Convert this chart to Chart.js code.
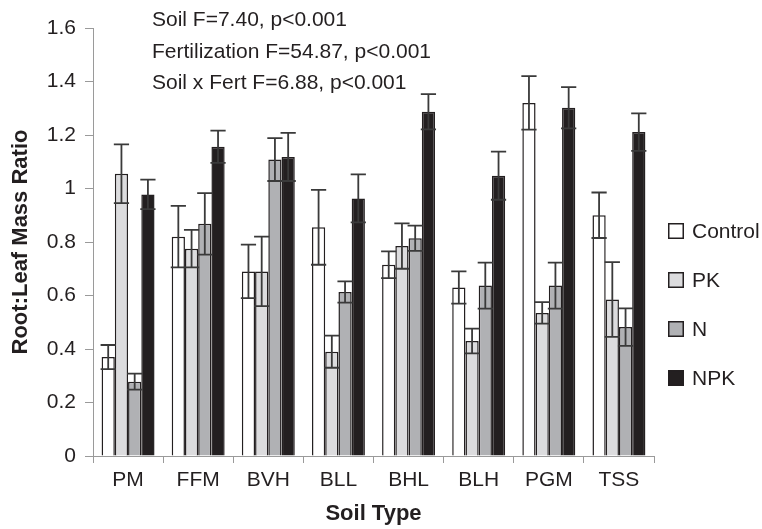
<!DOCTYPE html>
<html>
<head>
<meta charset="utf-8">
<script src="https://cdn.jsdelivr.net/npm/chart.js@4/dist/chart.umd.min.js"></script>
<style>
html,body{margin:0;padding:0;background:#ffffff;}
#wrap{width:762px;height:529px;position:relative;}
</style>
</head>
<body>
<div id="wrap"><canvas id="c" width="762" height="529"></canvas></div>
<script>
// ---- data ----
const categories = ['PM', 'FFM', 'BVH', 'BLL', 'BHL', 'BLH', 'PGM', 'TSS'];
const seriesNames = ['Control', 'PK', 'N', 'NPK'];
const controlVals = [0.37, 0.82, 0.69, 0.855, 0.715, 0.63, 1.32, 0.90];
const controlErr  = [0.045, 0.115, 0.10, 0.14, 0.05, 0.06, 0.10, 0.085];
const pkVals = [1.055, 0.775, 0.69, 0.39, 0.785, 0.43, 0.535, 0.585];
const pkErr  = [0.11, 0.07, 0.13, 0.06, 0.085, 0.046, 0.04, 0.14];
const nVals = [0.278, 0.868, 1.108, 0.613, 0.814, 0.637, 0.637, 0.482];
const nErr  = [0.03, 0.115, 0.08, 0.04, 0.047, 0.086, 0.086, 0.07];
const npkVals = [0.978, 1.156, 1.118, 0.963, 1.287, 1.048, 1.302, 1.211];
const npkErr  = [0.055, 0.06, 0.09, 0.09, 0.066, 0.09, 0.077, 0.07];
const yTickLabels = ['0', '0.2', '0.4', '0.6', '0.8', '1', '1.2', '1.4', '1.6'];
const annotationLines = [
  'Soil F=7.40, p<0.001',
  'Fertilization F=54.87, p<0.001',
  'Soil x Fert F=6.88, p<0.001'
];
const yTitle = 'Root:Leaf Mass Ratio';
const xTitle = 'Soil Type';

// ---- styles ----
const INK = '#231f20';
const AXIS = '#9a9a9a';
const FONT = "'Liberation Sans', Arial, Helvetica, sans-serif";
const fills = ['#ffffff', '#dcdcde', '#b0b1b4', '#231f20'];
const valueSets = [controlVals, pkVals, nVals, npkVals];
const errSets = [controlErr, pkErr, nErr, npkErr];

const datasets = seriesNames.map((name, i) => ({
  label: name,
  data: valueSets[i],
  errors: errSets[i],
  backgroundColor: fills[i],
  borderColor: INK,
  borderWidth: 1.5,
  categoryPercentage: 0.755,
  barPercentage: 1.0
}));

const errorBarPlugin = {
  id: 'errorBars',
  afterDatasetsDraw(chart) {
    const ctx = chart.ctx;
    const ys = chart.scales.y;
    ctx.save();
    ctx.strokeStyle = '#3a3a3a';
    ctx.lineWidth = 1.8;
    chart.data.datasets.forEach((ds, i) => {
      const meta = chart.getDatasetMeta(i);
      meta.data.forEach((bar, j) => {
        const v = ds.data[j], e = ds.errors[j];
        const yt = ys.getPixelForValue(v + e);
        const yb = ys.getPixelForValue(v - e);
        const half = bar.width / 2 + 1;
        ctx.beginPath();
        ctx.moveTo(bar.x, yt); ctx.lineTo(bar.x, yb);
        ctx.moveTo(bar.x - half, yt); ctx.lineTo(bar.x + half, yt);
        ctx.moveTo(bar.x - half, yb); ctx.lineTo(bar.x + half, yb);
        ctx.stroke();
      });
    });
    ctx.restore();
  }
};

const sideLegendPlugin = {
  id: 'sideLegend',
  afterDraw(chart) {
    const ctx = chart.ctx;
    const x0 = chart.chartArea.right + 14;
    const y0 = 231, step = 49, box = 16;
    ctx.save();
    ctx.font = '21px ' + FONT;
    ctx.textBaseline = 'middle';
    ctx.textAlign = 'left';
    chart.data.datasets.forEach((ds, i) => {
      const cy = y0 + i * step;
      ctx.fillStyle = ds.backgroundColor;
      ctx.fillRect(x0, cy - box / 2, box, box);
      ctx.strokeStyle = INK;
      ctx.lineWidth = 1.5;
      ctx.strokeRect(x0 + 0.75, cy - box / 2 + 0.75, box - 1.5, box - 1.5);
      ctx.fillStyle = INK;
      ctx.fillText(ds.label, x0 + 24, cy + 1);
    });
    ctx.restore();
  }
};

const annotationPlugin = {
  id: 'statsText',
  afterDraw(chart) {
    const ctx = chart.ctx;
    ctx.save();
    ctx.font = '21px ' + FONT;
    ctx.fillStyle = INK;
    ctx.textBaseline = 'alphabetic';
    ctx.textAlign = 'left';
    annotationLines.forEach((t, i) => {
      ctx.fillText(t, 152, 26 + i * 31.6);
    });
    ctx.restore();
  }
};

Chart.defaults.font.family = FONT;
Chart.defaults.color = INK;

new Chart(document.getElementById('c'), {
  type: 'bar',
  data: { labels: categories, datasets: datasets },
  options: {
    responsive: false,
    devicePixelRatio: 1,
    animation: false,
    layout: { padding: { left: 0, right: 108, top: 28, bottom: 0 } },
    plugins: {
      legend: { display: false },
      tooltip: { enabled: false }
    },
    scales: {
      x: {
        grid: { display: true, drawOnChartArea: false, offset: true, color: AXIS, tickLength: 7, lineWidth: 1 },
        border: { display: true, color: AXIS, width: 1 },
        ticks: { font: { size: 21 }, color: INK, padding: 5, maxRotation: 0, autoSkip: false },
        title: { display: true, text: xTitle, font: { size: 22, weight: 'bold' }, color: INK, padding: { top: 2, bottom: 2 } },
        afterFit(scale) { scale.height = 73; }
      },
      y: {
        min: 0, max: 1.6,
        grid: { display: true, drawOnChartArea: false, color: AXIS, tickLength: 8, lineWidth: 1 },
        border: { display: true, color: AXIS, width: 1 },
        ticks: {
          stepSize: 0.2, font: { size: 21 }, color: INK, padding: 9,
          callback: (value, index) => yTickLabels[index]
        },
        title: { display: true, text: yTitle, font: { size: 22, weight: 'bold' }, color: INK, padding: { top: 8, bottom: 4 } },
        afterFit(scale) { scale.width = 93; }
      }
    }
  },
  plugins: [errorBarPlugin, sideLegendPlugin, annotationPlugin]
});
</script>
</body>
</html>
